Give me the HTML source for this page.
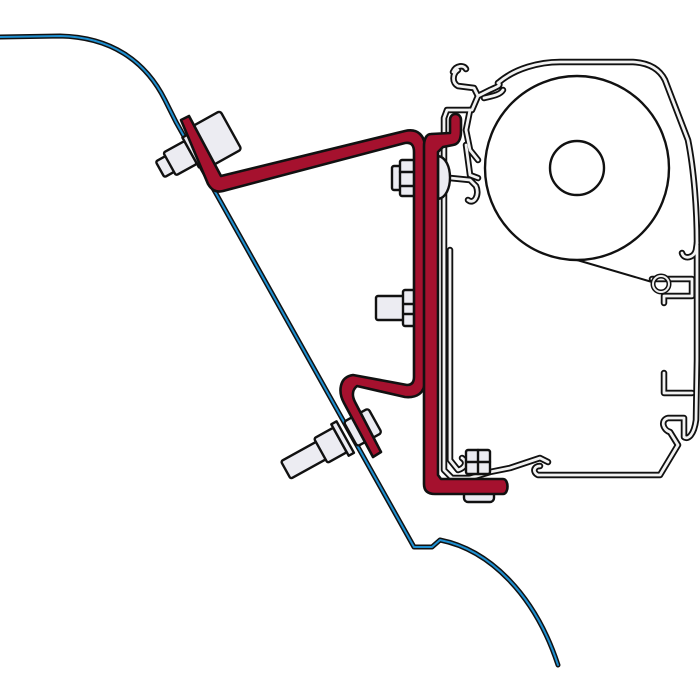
<!DOCTYPE html>
<html><head><meta charset="utf-8"><style>html,body{margin:0;padding:0;background:#fff}svg{display:block}</style></head>
<body>
<svg width="700" height="700" viewBox="0 0 700 700" xmlns="http://www.w3.org/2000/svg" stroke-linejoin="round" stroke-linecap="round">
<defs>
<path id="w" d="M0,37 L60,36 C110,37 145,60 165,100 L176,122 L414,547 L432,547 L440,540 C490,550 535,595 558,665"/>
<g id="pp">
<path d="M453,72 C456,65 464,65 466,69 M458,70 C452,74 452,83 458,86 L474,88 L478,96 L472,110 L447,110 L444,118 L444,470 L452,478 L470,478"/>
<path d="M498,83 C515,68 540,62 560,62 L633,62 C650,63 660,70 665,80 L688,140 C694,170 697,210 697,243"/>
<path d="M697,243 L696,250 C694,258 684,260 682,253 M697,245 L697,360 L696,420 C694,435 688,440 684,437 L684,418 L668,418 C660,420 663,430 670,432 L678,445 L660,475 L538,475 C532,472 534,466 540,466"/>
<path d="M478,96 L490,90 C497,87 502,85 498,83 M484,98 C492,96 500,95 503,90"/>
<path d="M470,110 L466,130 L470,150 L478,160 M466,145 L470,175 L478,178 M450,178 L470,180 L476,186 C480,195 474,205 468,200"/>
<path d="M450,250 L450,460 L458,470 C465,468 468,462 462,458"/>
<path d="M470,478 L490,472 L510,468 L540,458 L548,462"/>
<path d="M652,279 L692,279 L692,296 L664,296 L664,303 M664,373 L664,393 L692,393"/>
</g>
</defs>
<g fill="none">
<use href="#w" stroke="#111" stroke-width="5"/>
<use href="#w" stroke="#1e8fd0" stroke-width="2"/>
</g>

<g fill="none">
<use href="#pp" stroke="#111" stroke-width="6.5"/>
<use href="#pp" stroke="#f2f2f2" stroke-width="2.8"/>
<circle cx="577" cy="168" r="92" stroke="#111" stroke-width="2.4"/>
<circle cx="577" cy="168" r="27" stroke="#111" stroke-width="2.4"/>
<path d="M577,260 L652,282" stroke="#111" stroke-width="2"/>
<circle cx="661" cy="284" r="8" stroke="#111" stroke-width="5"/>
<circle cx="661" cy="284" r="8" stroke="#eee" stroke-width="2"/>
</g>

<g fill="#ececf2" stroke="#111" stroke-width="2.4">
<g transform="translate(195,150) rotate(-29)">
<rect x="-40" y="-9" width="13" height="18" rx="2"/>
<rect x="-29" y="-13" width="24" height="26" rx="2"/>
<rect x="-5" y="-17" width="6" height="34"/>
<rect x="7" y="-22" width="34" height="44" rx="3"/>
</g>
<g transform="translate(340,440) rotate(-29)">
<rect x="-62" y="-10" width="42" height="20" rx="2"/>
<rect x="-22" y="-14" width="22" height="28" rx="2"/>
<rect x="0" y="-18" width="6" height="36"/>
<rect x="12" y="-14" width="28" height="28" rx="3"/>
</g>
<rect x="392" y="166" width="9" height="24" rx="2"/>
<rect x="400" y="160" width="20" height="36" rx="2"/>
<path d="M400,172 H420 M400,186 H420"/>
<path d="M438,156 C454,158 454,197 438,199 Z"/>
<rect x="376" y="296" width="29" height="24" rx="2"/>
<rect x="403" y="290" width="16" height="36" rx="2"/>
<path d="M404,304 H418 M404,314 H418"/>
<rect x="466" y="450" width="24" height="24" rx="2"/>
<path d="M478,450 V474 M466,462 H490"/>
<rect x="464" y="488" width="30" height="14" rx="4"/>
</g>

<g fill="#a5112e" stroke="#111" stroke-width="2.6">
<path d="M181,120 L189,116 L221,176 L405,131 C418,128 425,136 425,148 L425,380 C425,394 416,398 405,397 L357,386 C352,390 352,396 355,402 L381,452 L373,457 L344,403 C338,392 339,377 353,375 L407,385 C412,385 414,382 414,377 L414,152 C414,145 411,142 405,143 L223,191 C215,193 211,189 208,184 Z"/>
<path d="M431,134 C426,134 424,140 424,146 L424,484 C424,491 428,494 435,494 L503,494 C509,494 509,479 503,479 L441,479 L438,475 L438,152 L443,147 L453,145 C459,144 461,139 461,131 L461,120 C461,112 450,112 450,120 L450,133 Z"/>
</g>
</svg>
</body></html>
